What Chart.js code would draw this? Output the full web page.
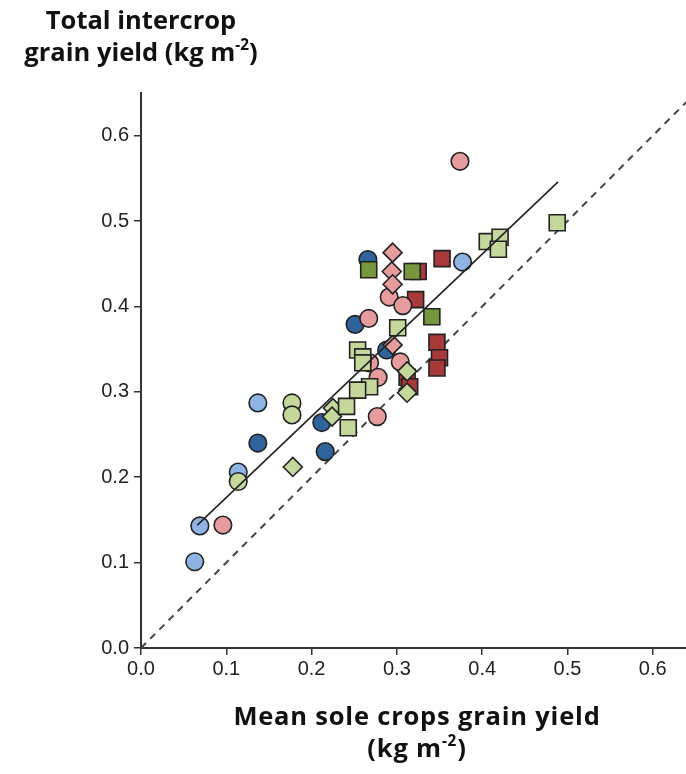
<!DOCTYPE html>
<html>
<head>
<meta charset="utf-8">
<script src="https://cdn.jsdelivr.net/npm/chart.js@4"></script>
<style>
  body { margin: 0; background: #fff; }
  #wrap { position: relative; width: 686px; height: 774px; overflow: hidden; }
  .ttl { position: absolute; font-family: "Open Sans", Lato, sans-serif; font-weight: bold;
         font-size: 25.5px; line-height: 32px; color: #111; text-align: center; }
  .ttl sup { font-size: 0.6em; line-height: 0; vertical-align: 0.7em; }
</style>
</head>
<body>
<div id="wrap">
  <canvas id="yieldChart" width="686" height="774"></canvas>
  <div class="ttl" style="left:0; width:282px; top:3px;">Total intercrop<br>grain yield (kg m<sup>-2</sup>)</div>
  <div class="ttl" style="left:117px; width:600px; top:699px; letter-spacing:0.8px;">Mean sole crops grain yield<br>(kg m<sup>-2</sup>)</div>
</div>
<script>
// tick labels
const xTicks = [0, 0.1, 0.2, 0.3, 0.4, 0.5, 0.6];
const yTicks = [0, 0.1, 0.2, 0.3, 0.4, 0.5, 0.6];

// series: [mean sole crop yield, intercrop yield]
const lightBlueCircles = [[0.063, 0.101], [0.069, 0.143], [0.114, 0.206], [0.137, 0.287], [0.377, 0.452]];
const darkBlueCircles = [[0.137, 0.240], [0.212, 0.264], [0.216, 0.230], [0.251, 0.379], [0.266, 0.455], [0.288, 0.349]];
const pinkCircles = [[0.096, 0.144], [0.267, 0.386], [0.291, 0.411], [0.307, 0.401], [0.268, 0.334],
  [0.278, 0.317], [0.304, 0.335], [0.277, 0.271], [0.374, 0.570]];
const pinkDiamonds = [[0.295, 0.463], [0.294, 0.441], [0.295, 0.426], [0.295, 0.355]];
const greenCircles = [[0.114, 0.195], [0.177, 0.287], [0.177, 0.273]];
const greenDiamonds = [[0.178, 0.212], [0.225, 0.281], [0.224, 0.271], [0.312, 0.324], [0.312, 0.299]];
const greenSquares = [[0.301, 0.375], [0.254, 0.349], [0.260, 0.341], [0.260, 0.334], [0.268, 0.306],
  [0.254, 0.302], [0.241, 0.283], [0.243, 0.258], [0.406, 0.476], [0.421, 0.481], [0.419, 0.467], [0.488, 0.498]];
const darkGreenSquares = [[0.267, 0.443], [0.318, 0.441], [0.341, 0.388]];
const redSquares = [[0.325, 0.441], [0.353, 0.456], [0.322, 0.408], [0.347, 0.358], [0.350, 0.340],
  [0.347, 0.328], [0.312, 0.317], [0.315, 0.306]];

// fitted line and 1:1 line ends
const fitX = [0.066, 0.489];
const fitY = [0.144, 0.546];
const oneToOne = [0, 0.64];

const toPts = arr => arr.map(p => ({ x: p[0], y: p[1] }));
const edge = '#222';

function markers(data, color, style, radius, order) {
  return {
    type: 'scatter',
    data: toPts(data),
    pointStyle: style,
    pointRadius: radius,
    pointHoverRadius: radius,
    pointBackgroundColor: color,
    pointBorderColor: edge,
    pointBorderWidth: 1.6,
    order: order
  };
}

const ctx = document.getElementById('yieldChart').getContext('2d');
new Chart(ctx, {
  data: {
    datasets: [
      {
        type: 'line',
        data: oneToOne.map(v => ({ x: v, y: v })),
        borderColor: '#444',
        borderWidth: 2,
        borderDash: [7, 6],
        pointRadius: 0,
        order: 20
      },
      markers(redSquares, '#a8393a', 'rect', 11.3, 15),
      markers(lightBlueCircles, '#8db4e2', 'circle', 8.8, 14),
      markers(darkBlueCircles, '#30629c', 'circle', 8.8, 13),
      markers(pinkCircles, '#e69c9c', 'circle', 8.8, 12),
      markers(pinkDiamonds, '#e69c9c', 'rectRot', 9.5, 11),
      markers(greenCircles, '#c4d89b', 'circle', 8.8, 10),
      markers(greenDiamonds, '#c4d89b', 'rectRot', 9.5, 9),
      markers(darkGreenSquares, '#77963d', 'rect', 11.3, 8),
      markers(greenSquares, '#c4d89b', 'rect', 11.3, 7),
      {
        type: 'line',
        data: fitX.map((x, i) => ({ x: x, y: fitY[i] })),
        borderColor: '#222',
        borderWidth: 1.6,
        pointRadius: 0,
        order: 1
      }
    ]
  },
  options: {
    responsive: false,
    animation: false,
    layout: { autoPadding: false, padding: { top: 93, right: 0, left: 0, bottom: 0 } },
    plugins: { legend: { display: false }, tooltip: { enabled: false } },
    scales: {
      x: {
        type: 'linear',
        min: 0,
        max: 0.639,
        afterBuildTicks: s => { s.ticks = xTicks.map(v => ({ value: v })); },
        afterFit: s => { s.height = 126; },
        ticks: {
          callback: v => v.toFixed(1),
          font: { family: 'Liberation Sans', size: 20 },
          color: '#222',
          padding: 2,
          maxRotation: 0
        },
        grid: { drawOnChartArea: false, drawTicks: true, tickLength: 7, color: '#333', lineWidth: 1.5 },
        border: { color: '#333', width: 2 }
      },
      y: {
        type: 'linear',
        min: 0,
        max: 0.65,
        afterBuildTicks: s => { s.ticks = yTicks.map(v => ({ value: v })); },
        afterFit: s => { s.width = 141; },
        ticks: {
          callback: v => v.toFixed(1),
          font: { family: 'Liberation Sans', size: 20 },
          color: '#222',
          padding: 5
        },
        grid: { drawOnChartArea: false, drawTicks: true, tickLength: 7, color: '#333', lineWidth: 1.5 },
        border: { color: '#333', width: 2 }
      }
    }
  }
});
</script>
</body>
</html>
